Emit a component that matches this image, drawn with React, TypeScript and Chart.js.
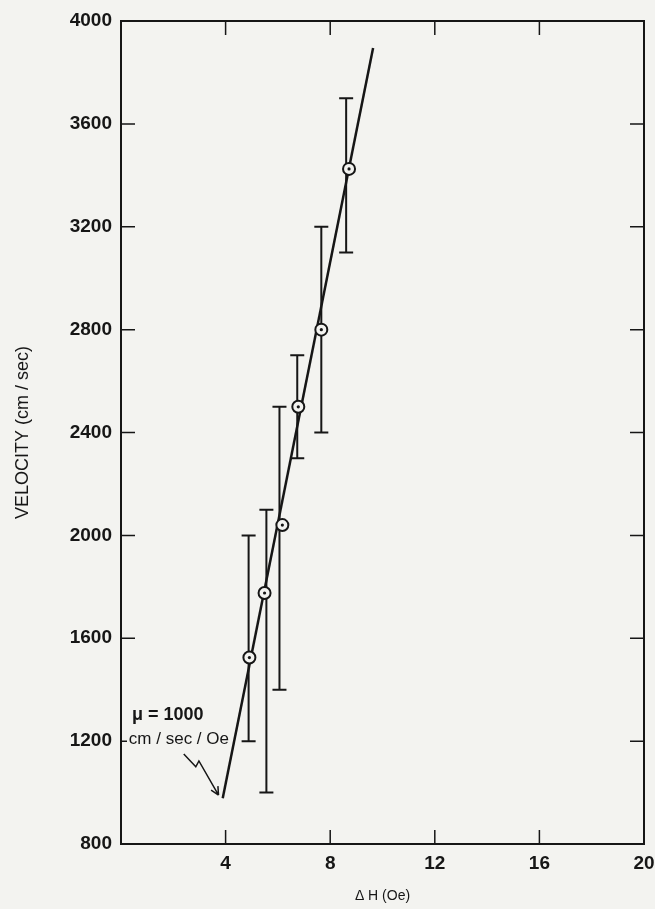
import React, { useEffect, useRef } from "react";
import { Chart, registerables } from "chart.js";

Chart.register(...registerables);

// ---- data ----
const xTickValues = [4, 8, 12, 16, 20];
const yTickValues = [800, 1200, 1600, 2000, 2400, 2800, 3200, 3600, 4000];

const pointX = [4.91, 5.49, 6.17, 6.78, 7.66, 8.72];
const pointY = [1525, 1776, 2040, 2500, 2800, 3425];

const errX = [4.88, 5.56, 6.06, 6.74, 7.66, 8.61];
const errLow = [1200, 1000, 1400, 2300, 2400, 3100];
const errHigh = [2000, 2100, 2500, 2700, 3200, 3700];

const fitX = [3.89, 9.64];
const fitY = [978, 3895];

const annotLines = ["\u03bc = 1000", "cm / sec / Oe"];
const annotLineX = [0.42, 0.3];
const annotLineY = [1302, 1208];
const arrowX = [2.4, 2.86, 2.98, 3.73];
const arrowY = [1150, 1100, 1123, 990];

const INK = "#161616";
const BG = "#f3f3f0";

const paperPlugin = {
  id: "paper",
  beforeDraw(chart: any) {
    const { ctx, width, height } = chart;
    ctx.save();
    ctx.fillStyle = BG;
    ctx.fillRect(0, 0, width, height);
    ctx.restore();
  },
  beforeDatasetsDraw(chart: any) {
    const { ctx } = chart;
    const xs = chart.scales.x;
    const ys = chart.scales.y;
    ctx.save();
    ctx.strokeStyle = INK;
    ctx.lineWidth = 2;
    for (let i = 0; i < errX.length; i++) {
      const px = xs.getPixelForValue(errX[i]);
      const pLo = ys.getPixelForValue(errLow[i]);
      const pHi = ys.getPixelForValue(errHigh[i]);
      ctx.beginPath();
      ctx.moveTo(px, pLo);
      ctx.lineTo(px, pHi);
      ctx.moveTo(px - 7, pLo);
      ctx.lineTo(px + 7, pLo);
      ctx.moveTo(px - 7, pHi);
      ctx.lineTo(px + 7, pHi);
      ctx.stroke();
    }
    ctx.restore();
  },
  afterDraw(chart: any) {
    const { ctx, chartArea } = chart;
    const { left, right, top, bottom } = chartArea;
    const xs = chart.scales.x;
    const ys = chart.scales.y;
    ctx.save();
    ctx.strokeStyle = INK;
    ctx.lineWidth = 2;
    ctx.strokeRect(left, top, right - left, bottom - top);
    ctx.lineWidth = 1.5;
    const tl = 14;
    ctx.beginPath();
    for (const v of xTickValues) {
      if (v >= 20) continue;
      const px = xs.getPixelForValue(v);
      ctx.moveTo(px, bottom);
      ctx.lineTo(px, bottom - tl);
      ctx.moveTo(px, top);
      ctx.lineTo(px, top + tl);
    }
    for (const v of yTickValues) {
      if (v <= 800 || v >= 4000) continue;
      const py = ys.getPixelForValue(v);
      ctx.moveTo(left, py);
      ctx.lineTo(left + (v === 1200 ? 6 : tl), py);
      ctx.moveTo(right, py);
      ctx.lineTo(right - tl, py);
    }
    ctx.stroke();

    // annotation
    ctx.fillStyle = INK;
    ctx.textBaseline = "middle";
    ctx.textAlign = "left";
    ctx.font = "bold 18px 'Liberation Sans', Arial, sans-serif";
    ctx.fillText(annotLines[0], xs.getPixelForValue(annotLineX[0]), ys.getPixelForValue(annotLineY[0]));
    ctx.font = "17px 'Liberation Sans', Arial, sans-serif";
    ctx.fillText(annotLines[1], xs.getPixelForValue(annotLineX[1]), ys.getPixelForValue(annotLineY[1]));

    ctx.lineWidth = 1.5;
    ctx.beginPath();
    for (let i = 0; i < arrowX.length; i++) {
      const px = xs.getPixelForValue(arrowX[i]);
      const py = ys.getPixelForValue(arrowY[i]);
      if (i === 0) ctx.moveTo(px, py);
      else ctx.lineTo(px, py);
    }
    const n = arrowX.length - 1;
    const tx = xs.getPixelForValue(arrowX[n]);
    const ty = ys.getPixelForValue(arrowY[n]);
    const sx = xs.getPixelForValue(arrowX[n - 1]);
    const sy = ys.getPixelForValue(arrowY[n - 1]);
    const ang = Math.atan2(ty - sy, tx - sx);
    const hl = 9;
    ctx.moveTo(tx, ty);
    ctx.lineTo(tx - hl * Math.cos(ang - 0.45), ty - hl * Math.sin(ang - 0.45));
    ctx.moveTo(tx, ty);
    ctx.lineTo(tx - hl * Math.cos(ang + 0.45), ty - hl * Math.sin(ang + 0.45));
    ctx.stroke();
    ctx.restore();
  },
};

export default function App() {
  const ref = useRef<HTMLCanvasElement | null>(null);

  useEffect(() => {
    document.body.style.margin = "0";
    const canvas = ref.current;
    if (!canvas) return;
    const pts = pointX.map((x, i) => ({ x, y: pointY[i] }));
    const fit = fitX.map((x, i) => ({ x, y: fitY[i] }));
    const tickFont = { family: "'Liberation Sans', Arial, sans-serif", size: 19, weight: "bold" as const };

    const chart = new Chart(canvas, {
      type: "scatter",
      data: {
        datasets: [
          {
            label: "center",
            data: pts,
            pointRadius: 1.6,
            pointBackgroundColor: INK,
            pointBorderWidth: 0,
            showLine: false,
          },
          {
            label: "measured",
            data: pts,
            pointRadius: 6,
            pointBorderWidth: 2,
            pointBorderColor: INK,
            pointBackgroundColor: BG,
            showLine: false,
          },
          {
            label: "fit",
            type: "line",
            data: fit,
            borderColor: INK,
            borderWidth: 2.5,
            pointRadius: 0,
            fill: false,
          },
        ],
      },
      options: {
        animation: false,
        responsive: false,
        devicePixelRatio: 1,
        layout: { padding: { top: 21, right: 11, left: 0, bottom: 0 } },
        plugins: { legend: { display: false }, tooltip: { enabled: false } },
        scales: {
          x: {
            type: "linear",
            min: 0,
            max: 20,
            grid: { display: false, drawTicks: false },
            border: { display: false },
            afterBuildTicks: (s: any) => {
              s.ticks = xTickValues.map((v) => ({ value: v }));
            },
            afterFit: (s: any) => {
              s.height = 65;
              s.paddingLeft = 0;
              s.paddingRight = 0;
            },
            ticks: {
              font: tickFont,
              color: INK,
              padding: 8,
              maxRotation: 0,
              callback: (v: any) => String(v),
            },
            title: {
              display: true,
              text: "\u0394 H (Oe)",
              color: INK,
              font: { family: "'Liberation Sans', Arial, sans-serif", size: 14 },
              padding: { top: 0, bottom: 4 },
            },
          },
          y: {
            type: "linear",
            min: 800,
            max: 4000,
            grid: { display: false, drawTicks: false },
            border: { display: false },
            afterBuildTicks: (s: any) => {
              s.ticks = yTickValues.map((v) => ({ value: v }));
            },
            afterFit: (s: any) => {
              s.width = 121;
              s.paddingTop = 0;
              s.paddingBottom = 0;
            },
            ticks: {
              font: tickFont,
              color: INK,
              padding: 9,
              callback: (v: any) => String(v),
            },
            title: {
              display: true,
              text: "VELOCITY (cm / sec)",
              color: INK,
              font: { family: "'Liberation Sans', Arial, sans-serif", size: 18 },
              padding: { top: 12, bottom: 0 },
            },
          },
        },
      },
      plugins: [paperPlugin],
    } as any);

    return () => chart.destroy();
  }, []);

  return (
    <div style={{ position: "absolute", left: 0, top: 0, width: 655, height: 909 }}>
      <canvas ref={ref} width={655} height={909} style={{ display: "block" }} />
    </div>
  );
}
